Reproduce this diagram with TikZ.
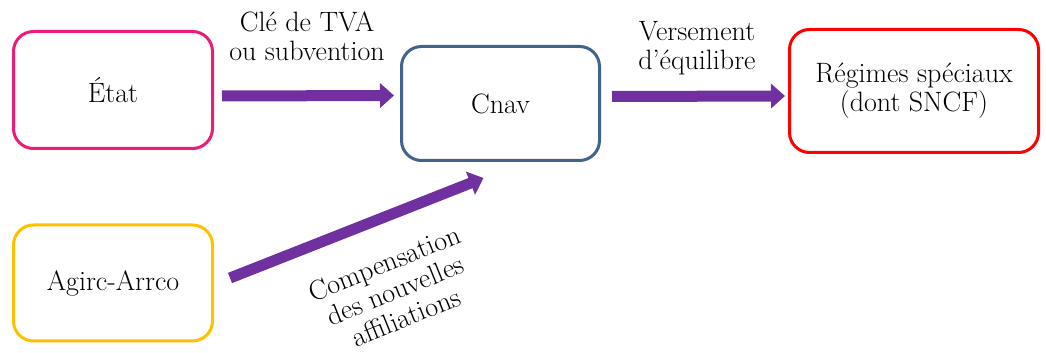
\documentclass[tikz,border=0pt]{standalone}
\usetikzlibrary{arrows.meta,calc}
\definecolor{cEtat}{HTML}{EC1C78}
\definecolor{cCnav}{HTML}{41648F}
\definecolor{cReg}{HTML}{FF0000}
\definecolor{cAgi}{HTML}{FFC000}
\definecolor{cArr}{HTML}{7030A0}
\begin{document}
\begin{tikzpicture}[x=1pt,y=1pt,
  box/.style={draw,line width=3pt,rounded corners=20pt,align=center,
    font=\fontsize{28}{29}\selectfont,text=black},
  flow/.style={draw=cArr,line width=11pt,-{Triangle[length=14pt,width=24pt]}},
  lbl/.style={align=center,font=\fontsize{28}{29}\selectfont,text=black}]
\useasboundingbox (0,0) rectangle (1046,353);
\node[box,draw=cEtat,minimum width=199pt,minimum height=117pt] (etat) at (113,263) {État};
\node[box,draw=cCnav,minimum width=198pt,minimum height=114pt] (cnav) at (500.5,249.5) {Cnav};
\node[box,draw=cReg,minimum width=249pt,minimum height=123pt] (reg) at (914,262) {Régimes spéciaux\\(dont SNCF)};
\node[box,draw=cAgi,minimum width=199pt,minimum height=116pt] (agi) at (113,70) {Agirc-Arrco};
\draw[flow] ([xshift=8pt,yshift=-6pt]etat.east) -- ([xshift=-6pt,yshift=8pt]cnav.west);
\draw[flow] ([xshift=11pt,yshift=7pt]cnav.east) -- ([xshift=-3pt,yshift=-5pt]reg.west);
\draw[flow] ([xshift=16pt,yshift=5pt]agi.east) -- ([xshift=-17pt,yshift=-16pt]cnav.south);
\node[lbl] (l1) at (307,317) {Clé de TVA\\ou subvention};
\node[lbl] (l2) at (697,305) {Versement\\d’équilibre};
\node[lbl,rotate=22] (l3) at (395,63) {Compensation\\des nouvelles\\affiliations};
\end{tikzpicture}
\end{document}
